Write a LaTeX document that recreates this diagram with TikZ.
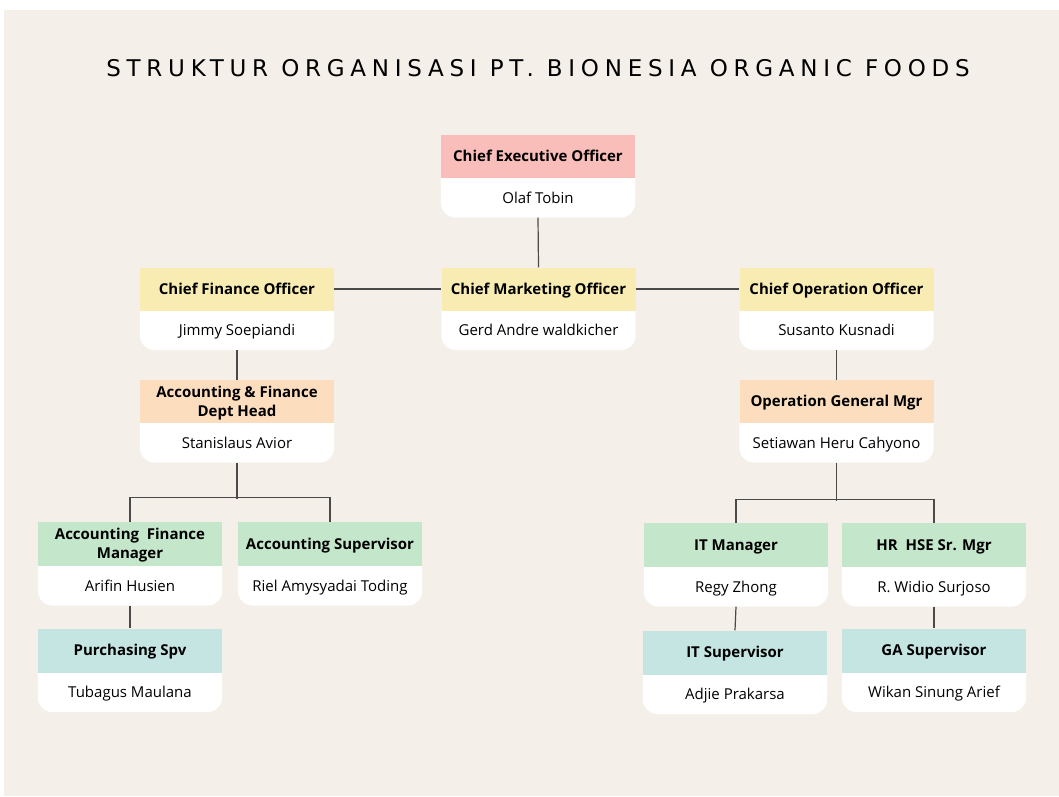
\documentclass[tikz,border=0pt]{standalone}
\usepackage{fontspec}
\setmainfont{Open Sans}
\newfontfamily\titlefont[LetterSpace=25]{DejaVu Sans}
\usepackage{tikz}
\usetikzlibrary{positioning,backgrounds}
\definecolor{paper}{HTML}{F4EFE9}
\definecolor{rose}{HTML}{F9BEB9}
\definecolor{butter}{HTML}{F8ECB2}
\definecolor{peach}{HTML}{FCDEBF}
\definecolor{mint}{HTML}{C4E6CB}
\definecolor{aqua}{HTML}{C4E5E2}
\definecolor{wire}{HTML}{4A4A4A}

\newcommand{\lift}{\rule[-4pt]{0pt}{18.8pt}}
% one card: coloured title bar, white name part with round lower corners
\newcommand{\card}[5]{%
  \node[head,fill=#3] (#1) at (#2) {\lift#4\lift};
  \node[person,below=0pt of #1] (#1n) {\lift#5};
  \begin{pgfonlayer}{background}
    \fill[white,rounded corners=15pt] (#1n.north west)--(#1n.south west)--(#1n.south east)--(#1n.north east);
  \end{pgfonlayer}}

\begin{document}
\begin{tikzpicture}[x=1pt,y=-1pt,
  head/.style={minimum width=194pt,minimum height=43pt,inner sep=0pt,align=center,font=\fontsize{15}{19}\selectfont\bfseries},
  person/.style={minimum width=194pt,minimum height=39pt,inner sep=0pt,font=\fontsize{15}{19}\selectfont},
  small/.style={minimum width=184pt},
  link/.style={draw=wire,line width=1.2pt}]
\useasboundingbox (0,0) rectangle (1059,796);
\begin{pgfonlayer}{background}
\fill[paper] (4,10) rectangle (1059,796);
\end{pgfonlayer}
\node[font=\titlefont\fontsize{23}{27}\selectfont] (title) at (538,68) {STRUKTUR ORGANISASI PT. BIONESIA ORGANIC FOODS};

\card{ceo}{538,156.5}{rose}{Chief Executive Officer}{Olaf Tobin}
\card{cmo}{538.5,289}{butter}{Chief Marketing Officer}{Gerd Andre waldkicher}
\card{cfo}{237,289}{butter}{Chief Finance Officer}{Jimmy Soepiandi}
\card{coo}{836.5,289}{butter}{Chief Operation Officer}{Susanto Kusnadi}
\card{acch}{237,401.5}{peach}{Accounting \& Finance\\Dept Head}{Stanislaus Avior}
\card{ogm}{836.5,401.5}{peach}{Operation General Mgr}{Setiawan Heru Cahyono}
\tikzset{head/.append style={small,minimum height=44pt},person/.append style={small}}
\card{afm}{130,544}{mint}{Accounting\ \ Finance\\Manager}{Arifin Husien}
\card{accs}{330,544}{mint}{Accounting Supervisor}{Riel Amysyadai Toding}
\card{itm}{736,545}{mint}{IT Manager}{Regy Zhong}
\card{hrm}{934,545}{mint}{HR\ \ HSE Sr. Mgr}{R. Widio Surjoso}
\card{psp}{130,650.5}{aqua}{Purchasing Spv}{Tubagus Maulana}
\card{its}{735,652.5}{aqua}{IT Supervisor}{Adjie Prakarsa}
\card{gas}{934,650.5}{aqua}{GA Supervisor}{Wikan Sinung Arief}

\draw[link] (ceon.south) -- (cmo.north);
\draw[link] (cfo.east) -- (cmo.west);
\draw[link] (cmo.east) -- (coo.west);
\draw[link] (cfon.south) -- (acch.north);
\draw[link] (coon.south) -- (ogm.north);
\draw[link] (acchn.south) -- ++(0,36);
\draw[link] (afm.north) -- ++(0,-24) -| (accs.north);
\draw[link] (ogmn.south) -- ++(0,38);
\draw[link] (itm.north) -- ++(0,-23) -| (hrm.north);
\draw[link] (afmn.south) -- (psp.north);
\draw[link] (itmn.south) -- (its.north);
\draw[link] (hrmn.south) -- (gas.north);
\end{tikzpicture}
\end{document}
